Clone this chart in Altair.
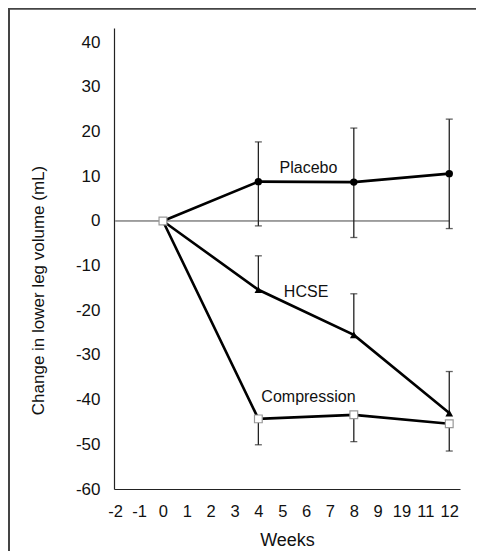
import altair as alt
import pandas as pd

# ---- data ----
weeks = [0, 4, 8, 12]
placebo = [0, 8.8, 8.7, 10.6]
hcse = [0, -15.4, -25.5, -43.0]
compression = [0, -44.3, -43.4, -45.4]

placebo_err_low = [None, -1.1, -3.7, -1.7]
placebo_err_high = [None, 17.7, 20.8, 22.8]
hcse_err_high = [None, -7.8, -16.3, -33.7]
compression_err_low = [None, -50.1, -49.4, -51.5]

label_names = ["Placebo", "HCSE", "Compression"]
label_x = [6.1, 6.0, 6.1]
label_y = [11.8, -15.9, -39.4]

x_ticks = list(range(-2, 13))
y_ticks = list(range(-60, 41, 10))

FONT = "Liberation Sans"

# ---- tables ----
line_rows = []
for name, vals in [("Placebo", placebo), ("HCSE", hcse), ("Compression", compression)]:
    for w, v in zip(weeks, vals):
        line_rows.append({"series": name, "week": w, "y": v})
lines_df = pd.DataFrame(line_rows)

err_rows, cap_rows = [], []
for i, w in enumerate(weeks):
    if placebo_err_low[i] is not None:
        err_rows.append({"week": w, "y": placebo_err_low[i], "y2": placebo_err_high[i]})
        cap_rows.append({"week": w, "y": placebo_err_low[i]})
        cap_rows.append({"week": w, "y": placebo_err_high[i]})
    if hcse_err_high[i] is not None:
        err_rows.append({"week": w, "y": hcse[i], "y2": hcse_err_high[i]})
        cap_rows.append({"week": w, "y": hcse_err_high[i]})
    if compression_err_low[i] is not None:
        err_rows.append({"week": w, "y": compression_err_low[i], "y2": compression[i]})
        cap_rows.append({"week": w, "y": compression_err_low[i]})
err_df = pd.DataFrame(err_rows)
cap_df = pd.DataFrame(cap_rows)

labels_df = pd.DataFrame({"label": label_names, "week": label_x, "y": label_y})
zero_df = pd.DataFrame({"week": [x_ticks[0]], "week2": [x_ticks[-1]], "y": [0]})

x_scale = alt.Scale(domain=[-2.05, 12.45], nice=False, zero=False)
y_scale = alt.Scale(domain=[-60, 43.2], nice=False, zero=False)

x_axis = alt.Axis(
    title="Weeks", values=x_ticks, grid=False, ticks=False,
    labelExpr="datum.value == 10 ? '19' : (datum.value < 0 ? '-' + abs(datum.value) : '' + datum.value)",
    labelFont=FONT, labelFontSize=16.5, labelColor="#111", labelPadding=14,
    titleFont=FONT, titleFontSize=18, titleFontWeight="normal", titleColor="#111",
    titlePadding=12, domainColor="#222", domainWidth=1.2, labelFlush=False,
    labelOverlap=False,
)
y_axis = alt.Axis(
    title="Change in lower leg volume (mL)", values=y_ticks, grid=False, ticks=False,
    labelExpr="datum.value < 0 ? '-' + abs(datum.value) : '' + datum.value",
    labelFont=FONT, labelFontSize=17, labelColor="#111", labelPadding=14,
    titleFont=FONT, titleFontSize=17, titleFontWeight="normal", titleColor="#111",
    titleX=-67, titleY=262, domainColor="#222", domainWidth=1.2,
)

X = alt.X("week:Q", scale=x_scale, axis=x_axis)
Y = alt.Y("y:Q", scale=y_scale, axis=y_axis)

zero_line = alt.Chart(zero_df).mark_rule(color="#444", strokeWidth=1).encode(
    x=X, x2="week2:Q", y=Y
)

err = alt.Chart(err_df).mark_rule(color="#222", strokeWidth=1.3).encode(
    x=X, y=Y, y2="y2:Q"
)
caps = alt.Chart(cap_df).mark_tick(color="#222", thickness=1.3, size=7, orient="horizontal").encode(
    x=X, y=Y
)

lines = alt.Chart(lines_df).mark_line(color="black", strokeWidth=2.6).encode(
    x=X, y=Y, detail="series:N", order="week:Q"
)

placebo_pts = alt.Chart(lines_df).transform_filter(
    "datum.series == 'Placebo' && datum.week > 0"
).mark_point(shape="circle", filled=True, color="black", size=55, opacity=1).encode(x=X, y=Y)

hcse_pts = alt.Chart(lines_df).transform_filter(
    "datum.series == 'HCSE' && datum.week > 0"
).mark_point(shape="triangle-up", filled=True, color="black", size=60, opacity=1).encode(x=X, y=Y)

comp_pts = alt.Chart(lines_df).transform_filter(
    "datum.series == 'Compression'"
).mark_point(shape="square", filled=True, fill="white", stroke="#999", strokeWidth=1.2, size=60, opacity=1).encode(x=X, y=Y)

labels = alt.Chart(labels_df).mark_text(font=FONT, fontSize=16, color="#111").encode(
    x=X, y=Y, text="label:N"
)

frame_top = alt.Chart(zero_df).mark_rule(color="#444", strokeWidth=2.5).encode(
    x=alt.value(-106), x2=alt.value(400), y=alt.value(-19.5)
)
frame_left = alt.Chart(zero_df).mark_rule(color="#444", strokeWidth=2).encode(
    x=alt.value(-105), y=alt.value(-20), y2=alt.value(600)
)

chart = alt.layer(
    frame_top, frame_left, zero_line, err, caps, lines, comp_pts, placebo_pts, hcse_pts, labels
).properties(
    width=346, height=461,
    autosize=alt.AutoSizeParams(type="none"),
    padding={"left": 106, "top": 20, "right": 16, "bottom": 62},
    background="white",
).configure_view(stroke=None)

chart.save("out.html", embed_options={"renderer": "svg", "actions": False})
